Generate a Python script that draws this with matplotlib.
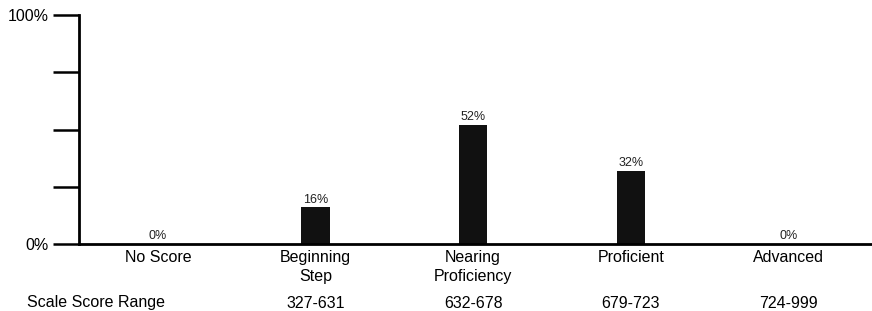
import matplotlib.pyplot as plt

categories = ['No Score', 'Beginning\nStep', 'Nearing\nProficiency', 'Proficient', 'Advanced']
percents = [0, 16, 52, 32, 0]
score_ranges = ['', '327-631', '632-678', '679-723', '724-999']
yticks = [0, 25, 50, 75, 100]
ytick_labels = ['0%', '', '', '', '100%']

plt.rcParams['font.family'] = ['Liberation Sans', 'DejaVu Sans']

fig = plt.figure(figsize=(8.72, 3.11), dpi=100)
ax = fig.add_axes([79 / 872, 1 - 244 / 311, 1 - 79 / 872, 229 / 311])

x = list(range(len(categories)))
ax.bar(x, percents, width=0.18, color='#111111')
for xi, p in zip(x, percents):
    ax.text(xi, p + 0.8, f'{p}%', ha='center', va='bottom', fontsize=9, color='#222222')

ax.set_xlim(-0.5, 4.53)
ax.set_ylim(0, 100)
ax.set_yticks(yticks)
ax.set_yticklabels(ytick_labels, fontsize=11.5)
ax.tick_params(axis='y', length=19, width=1.8, pad=3)
ax.set_xticks(x)
ax.set_xticklabels(categories, fontsize=11.5, linespacing=1.4)
ax.tick_params(axis='x', length=0, pad=4)

for s in ['top', 'right']:
    ax.spines[s].set_visible(False)
ax.spines['left'].set_linewidth(2)
ax.spines['bottom'].set_linewidth(2)

ax.text(27 / 872, 1 - 303 / 311, 'Scale Score Range', transform=fig.transFigure,
        ha='left', va='center', fontsize=11.5)
for xi, r in zip(x, score_ranges):
    ax.annotate(r, xy=(xi, 0), xycoords=('data', 'axes fraction'),
                xytext=(0, -59), textcoords='offset pixels',
                ha='center', va='center', fontsize=11.5)

fig.savefig('out.png', dpi=100)
